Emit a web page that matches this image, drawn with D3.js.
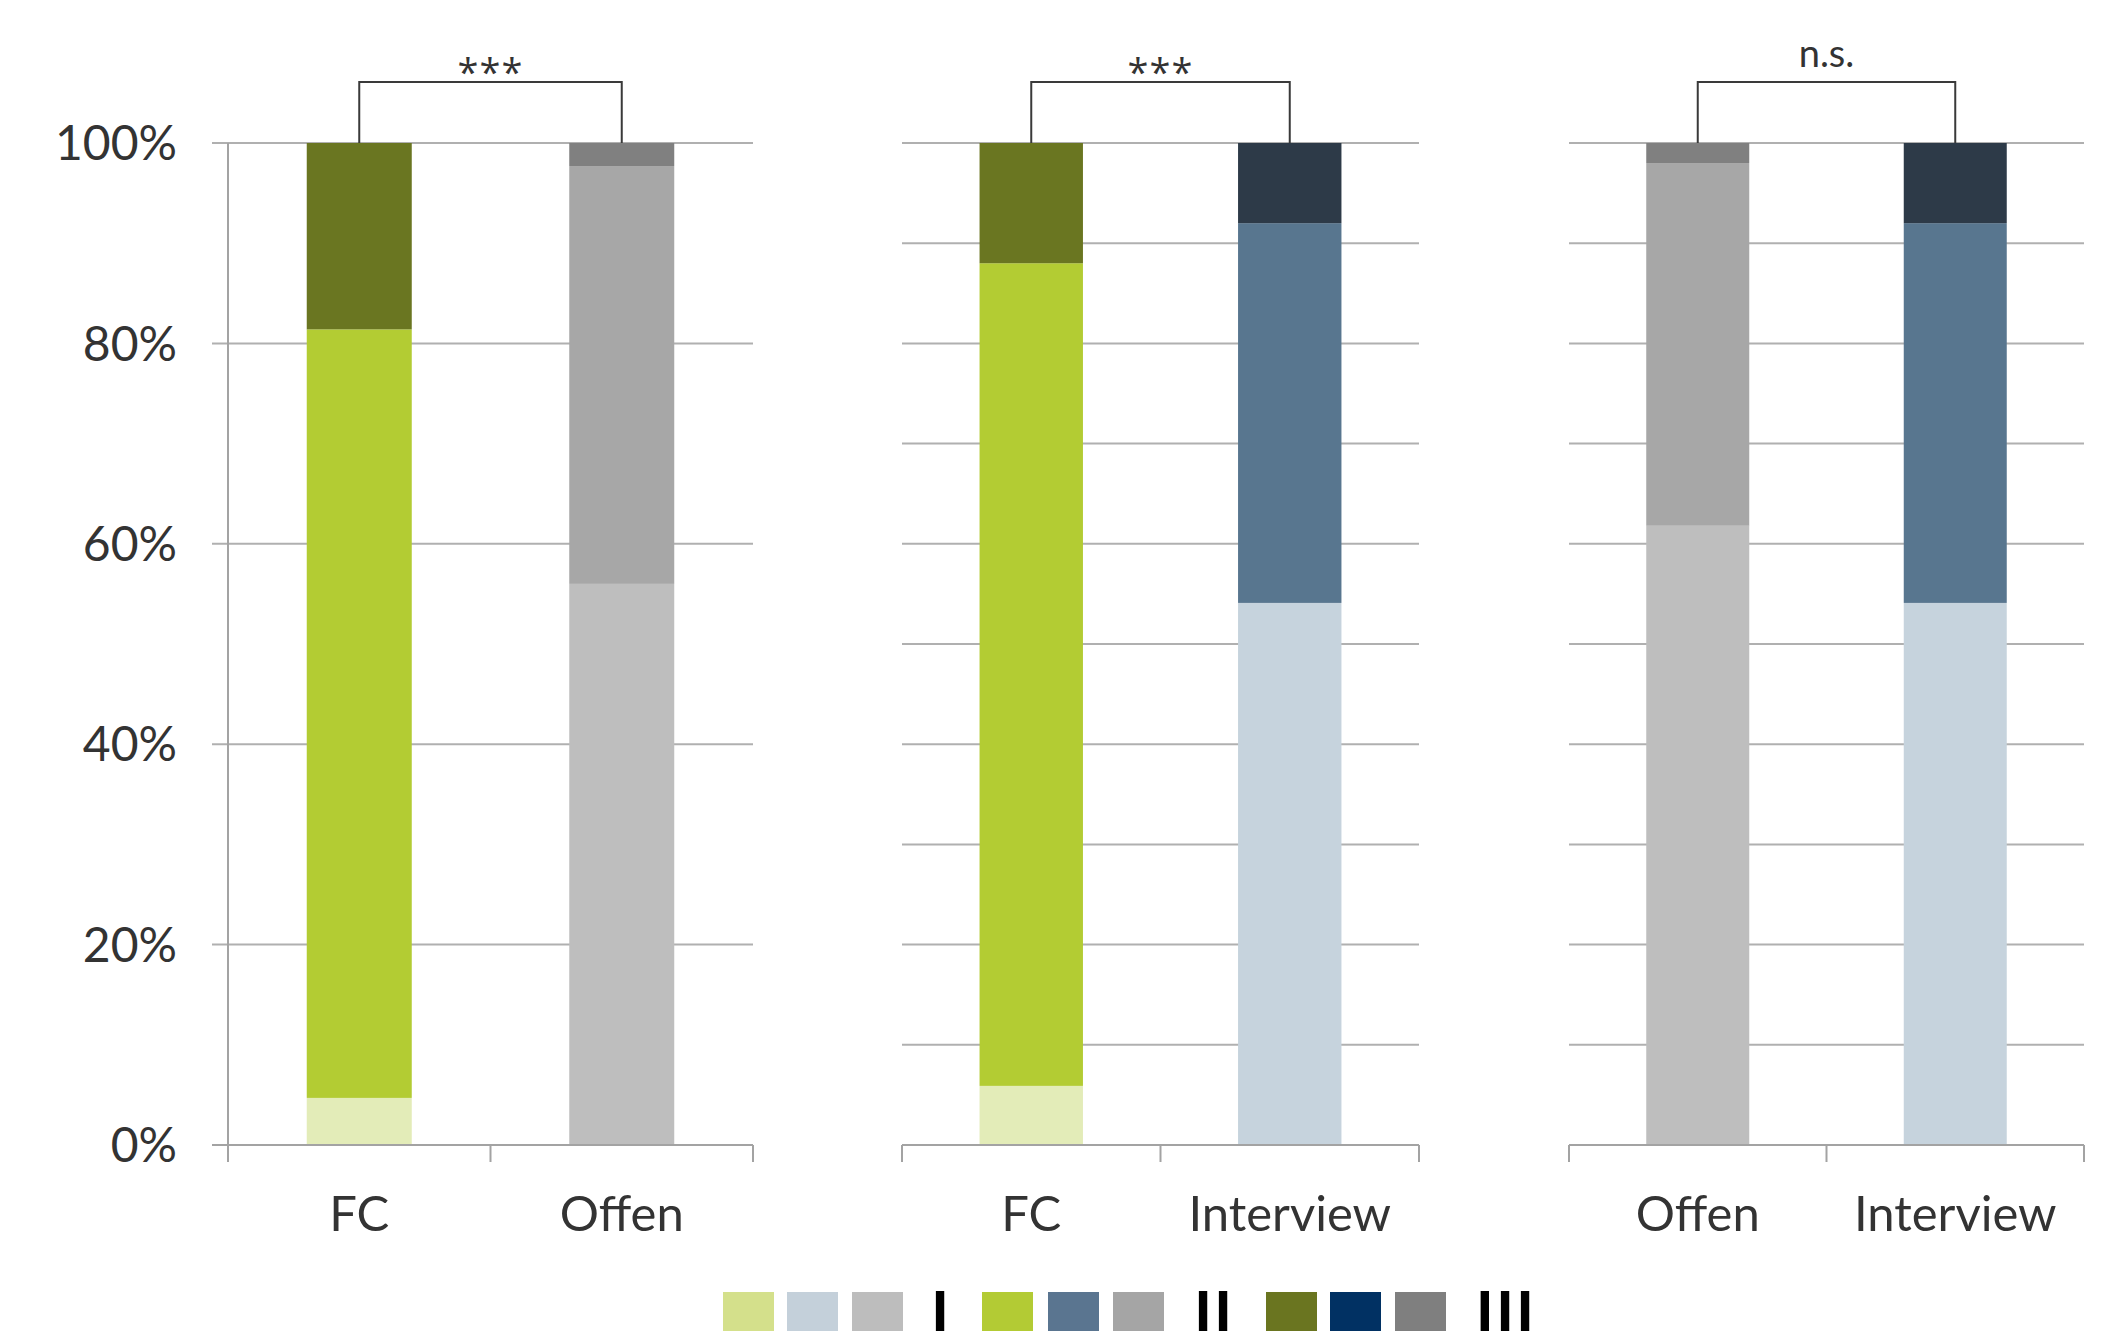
<!DOCTYPE html>
<html>
<head>
<meta charset="utf-8">
<script src="https://cdn.jsdelivr.net/npm/d3@7"></script>
<style>
  html, body { margin: 0; padding: 0; background: #ffffff; overflow: hidden; }
  svg { display: block; font-family: "Lato", "Open Sans", sans-serif; }
</style>
</head>
<body>
<svg id="chart" width="2115" height="1331"></svg>
<script>
// Three pairwise comparisons of answer formats; each bar is split into three levels (%).
const comparisons = [["FC", "Offen"], ["FC", "Interview"], ["Offen", "Interview"]];
const significance = ["***", "***", "n.s."];
const level1 = [[4.7, 56.0], [5.9, 54.1], [61.8, 54.1]];
const level2 = [[76.7, 41.7], [82.1, 37.9], [36.2, 37.9]];
const level3 = [[18.6, 2.3], [12.0, 8.0], [2.0, 8.0]];
const yTicks = [0, 20, 40, 60, 80, 100];
const yTickLabels = ["0%", "20%", "40%", "60%", "80%", "100%"];
const gridFine = [0, 10, 20, 30, 40, 50, 60, 70, 80, 90, 100];
const legendGroups = ["I", "II", "III"];

// Colours per format, light → dark for levels I, II, III
const formatColors = {
  "FC":        ["#e3ecb8", "#b3cc33", "#6a7621"],
  "Offen":     ["#bebebe", "#a7a7a7", "#808080"],
  "Interview": ["#c6d3dd", "#58768f", "#2d3a48"]
};
const legendColors = [
  ["#d4e08b", "#c4d0da", "#bdbdbd"],
  ["#b3cb34", "#5a7590", "#a5a5a5"],
  ["#6a7520", "#013163", "#7f7f7f"]
];

const svg = d3.select("#chart");
const textColor = "#333333";
const gridColor = "#b0b0b0";
const axisColor = "#a3a3a3";

const y = d3.scaleLinear().domain([0, 100]).range([1145, 143]);

const panelX = [[228, 753], [902, 1419], [1569, 2084]];
const keys = ["l1", "l2", "l3"];

comparisons.forEach((cats, p) => {
  const [x0, x1] = panelX[p];
  const g = svg.append("g");
  const x = d3.scaleBand().domain(cats).range([x0, x1]).paddingInner(0.6).paddingOuter(0.3);

  // horizontal gridlines
  const grid = p === 0 ? yTicks : gridFine;
  const gx0 = p === 0 ? x0 - 16 : x0;
  g.selectAll("line.grid").data(grid).join("line")
    .attr("class", "grid")
    .attr("x1", gx0).attr("x2", x1)
    .attr("y1", d => y(d)).attr("y2", d => y(d))
    .attr("stroke", gridColor).attr("stroke-width", 2);

  // stacked bars
  const rows = cats.map((c, i) => ({ cat: c, l1: level1[p][i], l2: level2[p][i], l3: level3[p][i] }));
  const stacked = d3.stack().keys(keys)(rows);
  stacked.forEach((layer, li) => {
    g.selectAll(null).data(layer).join("rect")
      .attr("x", d => x(d.data.cat))
      .attr("width", x.bandwidth())
      .attr("y", d => y(d[1]))
      .attr("height", d => y(d[0]) - y(d[1]))
      .attr("fill", d => formatColors[d.data.cat][li]);
  });

  // x axis with category boundary ticks
  g.append("line")
    .attr("x1", gx0).attr("x2", x1).attr("y1", y(0)).attr("y2", y(0))
    .attr("stroke", axisColor).attr("stroke-width", 2);
  const bounds = [x0, (x0 + x1) / 2, x1];
  g.selectAll("line.xt").data(bounds).join("line")
    .attr("class", "xt")
    .attr("x1", d => d).attr("x2", d => d)
    .attr("y1", y(0)).attr("y2", y(0) + 17)
    .attr("stroke", axisColor).attr("stroke-width", 2);

  // category labels
  g.selectAll("text.cat").data(cats).join("text")
    .attr("class", "cat")
    .attr("x", d => x(d) + x.bandwidth() / 2)
    .attr("y", 1231)
    .attr("text-anchor", "middle")
    .attr("font-size", 49)
    .attr("fill", textColor)
    .text(d => d);

  // y axis only on the first panel
  if (p === 0) {
    g.append("line")
      .attr("x1", x0).attr("x2", x0).attr("y1", y(100)).attr("y2", y(0) + 17)
      .attr("stroke", axisColor).attr("stroke-width", 2);
    g.selectAll("text.yl").data(yTicks).join("text")
      .attr("class", "yl")
      .attr("x", 177)
      .attr("y", d => y(d))
      .attr("dy", "0.36em")
      .attr("text-anchor", "end")
      .attr("font-size", 48)
      .attr("fill", textColor)
      .text((d, i) => yTickLabels[i]);
  }

  // significance bracket
  const bxa = x(cats[0]) + x.bandwidth() / 2;
  const bxb = x(cats[1]) + x.bandwidth() / 2;
  const top = 82;
  g.append("path")
    .attr("d", d3.line()([[bxa, y(100)], [bxa, top], [bxb, top], [bxb, y(100)]]))
    .attr("fill", "none")
    .attr("stroke", "#3a3a3a")
    .attr("stroke-width", 2);
  const sig = significance[p];
  const isStars = sig !== "n.s.";
  g.append("text")
    .attr("x", (bxa + bxb) / 2)
    .attr("y", isStars ? 86 : 67)
    .attr("text-anchor", "middle")
    .attr("font-family", isStars ? "Open Sans, sans-serif" : null)
    .attr("font-size", isStars ? 38 : 38)
    .attr("letter-spacing", isStars ? 1 : 0)
    .attr("fill", textColor)
    .text(sig);
});

// legend: three swatches per level group, followed by its numeral
const swatchX = [[723, 787, 852], [982, 1048, 1113], [1266, 1330, 1395]];
const numeralX = [942, 1215, 1507];
legendGroups.forEach((lab, gi) => {
  svg.selectAll(null).data(legendColors[gi]).join("rect")
    .attr("x", (d, i) => swatchX[gi][i])
    .attr("y", 1292)
    .attr("width", 51).attr("height", 51)
    .attr("fill", d => d);
  svg.append("text")
    .attr("x", numeralX[gi])
    .attr("y", 1331)
    .attr("text-anchor", "middle")
    .attr("font-family", "Liberation Sans, Arial, sans-serif")
    .attr("font-weight", "bold")
    .attr("font-size", 58)
    .attr("letter-spacing", 4)
    .attr("fill", "#000000")
    .text(lab);
});
</script>
</body>
</html>
